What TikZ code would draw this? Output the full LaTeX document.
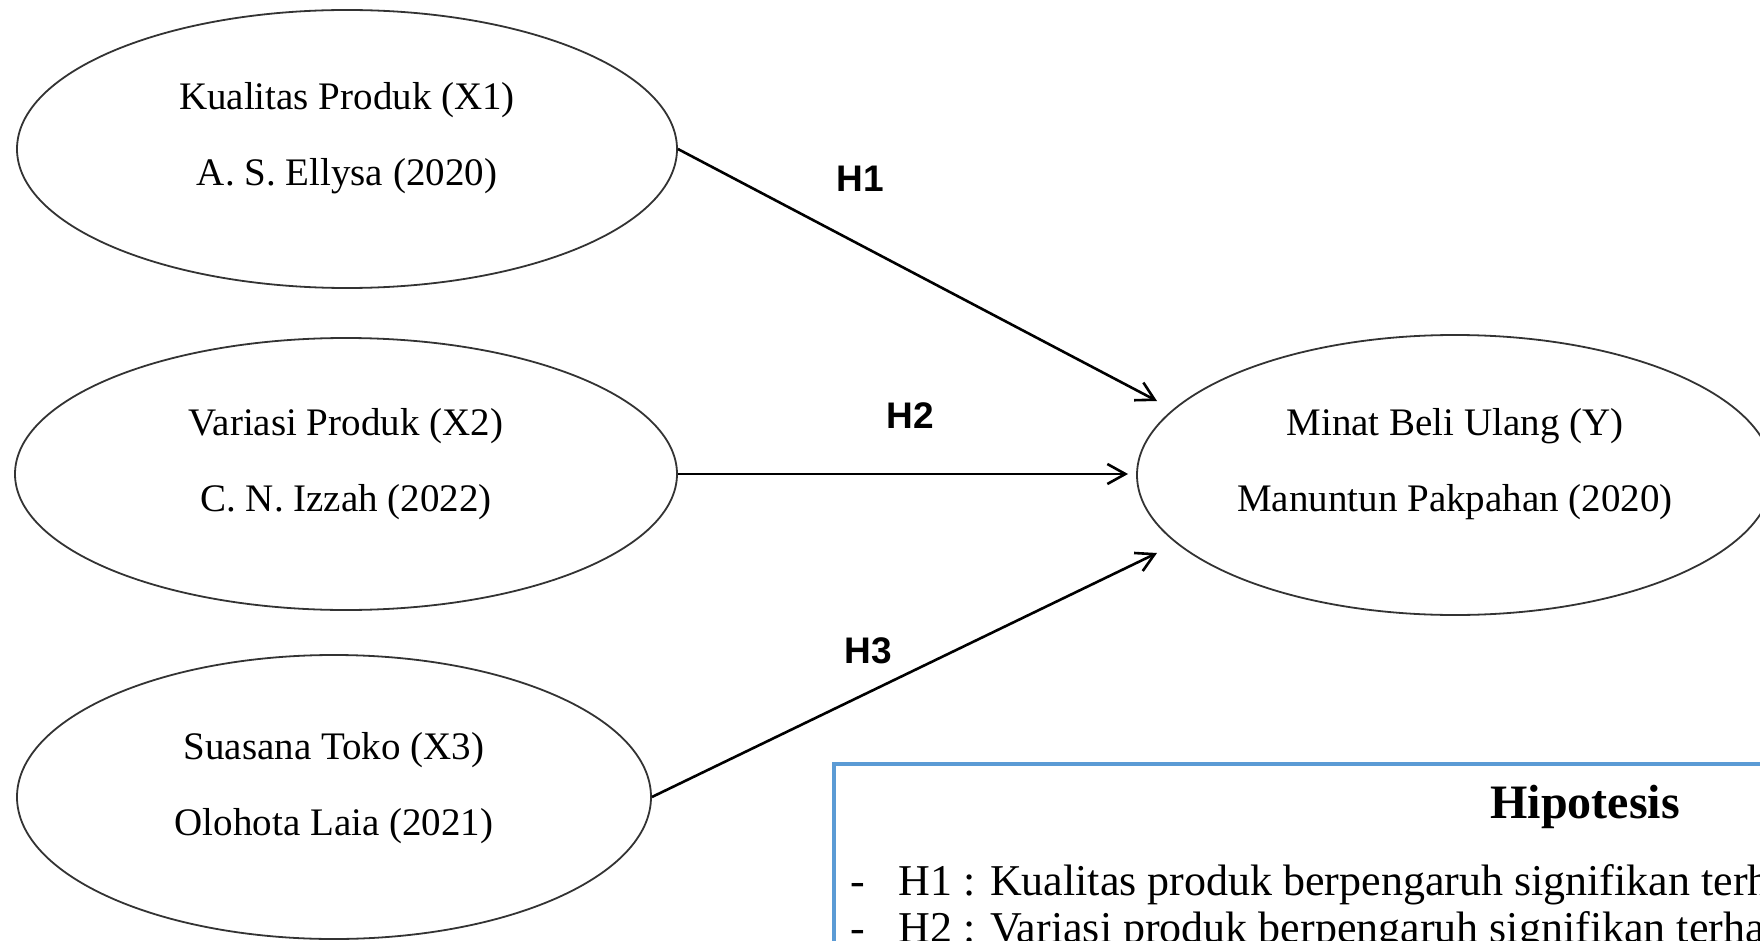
\documentclass[tikz,border=0pt]{standalone}
\usepackage{fontspec}
\setmainfont{Liberation Serif}
\newfontfamily\labelfont{Liberation Sans}
\usetikzlibrary{shapes.geometric,arrows.meta}
\definecolor{boxblue}{RGB}{91,155,213}

\begin{document}
\begin{tikzpicture}[x=0.5pt, y=-0.5pt,
    varnode/.style={draw=black!80, line width=0.9pt, ellipse, inner sep=0pt},
    vartext/.style={align=center, font=\fontsize{19.5}{38}\selectfont},
    hyparrow/.style={-{Straight Barb[length=9pt, width=10pt]}, line width=1.3pt},
    hyplabel/.style={anchor=base, font=\labelfont\bfseries\fontsize{18.5}{20}\selectfont},
    hipbox/.style={draw=boxblue, line width=2pt, anchor=north west, minimum width=520pt, minimum height=150pt},
    hipitem/.style={anchor=base west, inner sep=0pt, font=\fontsize{22}{24}\selectfont}]
    \useasboundingbox (0,0) rectangle (1760,941);
    \clip (0,0) rectangle (1760,941);

    % Variables
    \node[varnode, minimum width=330pt, minimum height=139pt] (x1) at (347,149) {};
    \node[vartext] (x1txt) at (347,138) {Kualitas Produk (X1)\\A. S. Ellysa (2020)};
    \node[varnode, minimum width=331pt, minimum height=136pt] (x2) at (346,474) {};
    \node[vartext] (x2txt) at (346,464) {Variasi Produk (X2)\\C. N. Izzah (2022)};
    \node[varnode, minimum width=317pt, minimum height=142pt] (x3) at (334,797) {};
    \node[vartext] (x3txt) at (334,788) {Suasana Toko (X3)\\Olohota Laia (2021)};
    \node[varnode, minimum width=318pt, minimum height=140pt] (y) at (1455,475) {};
    \node[vartext] (ytxt) at (1455,464) {Minat Beli Ulang (Y)\\Manuntun Pakpahan (2020)};

    % Hypothesis paths
    \coordinate (h1end) at (1157,401);
    \coordinate (h2end) at (1128,474);
    \coordinate (h3end) at (1157,553);
    \draw[hyparrow] (x1.east) -- (h1end);
    \draw[hyparrow] (x2.east) -- (h2end);
    \draw[hyparrow] (x3.east) -- (h3end);
    \node[hyplabel] (h1) at (860,192) {H1};
    \node[hyplabel] (h2) at (910,428) {H2};
    \node[hyplabel] (h3) at (868,663) {H3};

    % Hipotesis box
    \node[hipbox] (hip) at (832,762) {};
    \node[anchor=base, font=\bfseries\fontsize{24}{28}\selectfont] (hiptitle) at (1585,818) {Hipotesis};
    \node[hipitem] (dash1) at (850,895) {-};
    \node[hipitem] (item1) at (898,895) {H1 : Kualitas produk berpengaruh signifikan terhadap};
    \node[hipitem] (dash2) at (850,942) {-};
    \node[hipitem] (item2) at (898,942) {H2 : Variasi produk berpengaruh signifikan terhadap};
\end{tikzpicture}
\end{document}
